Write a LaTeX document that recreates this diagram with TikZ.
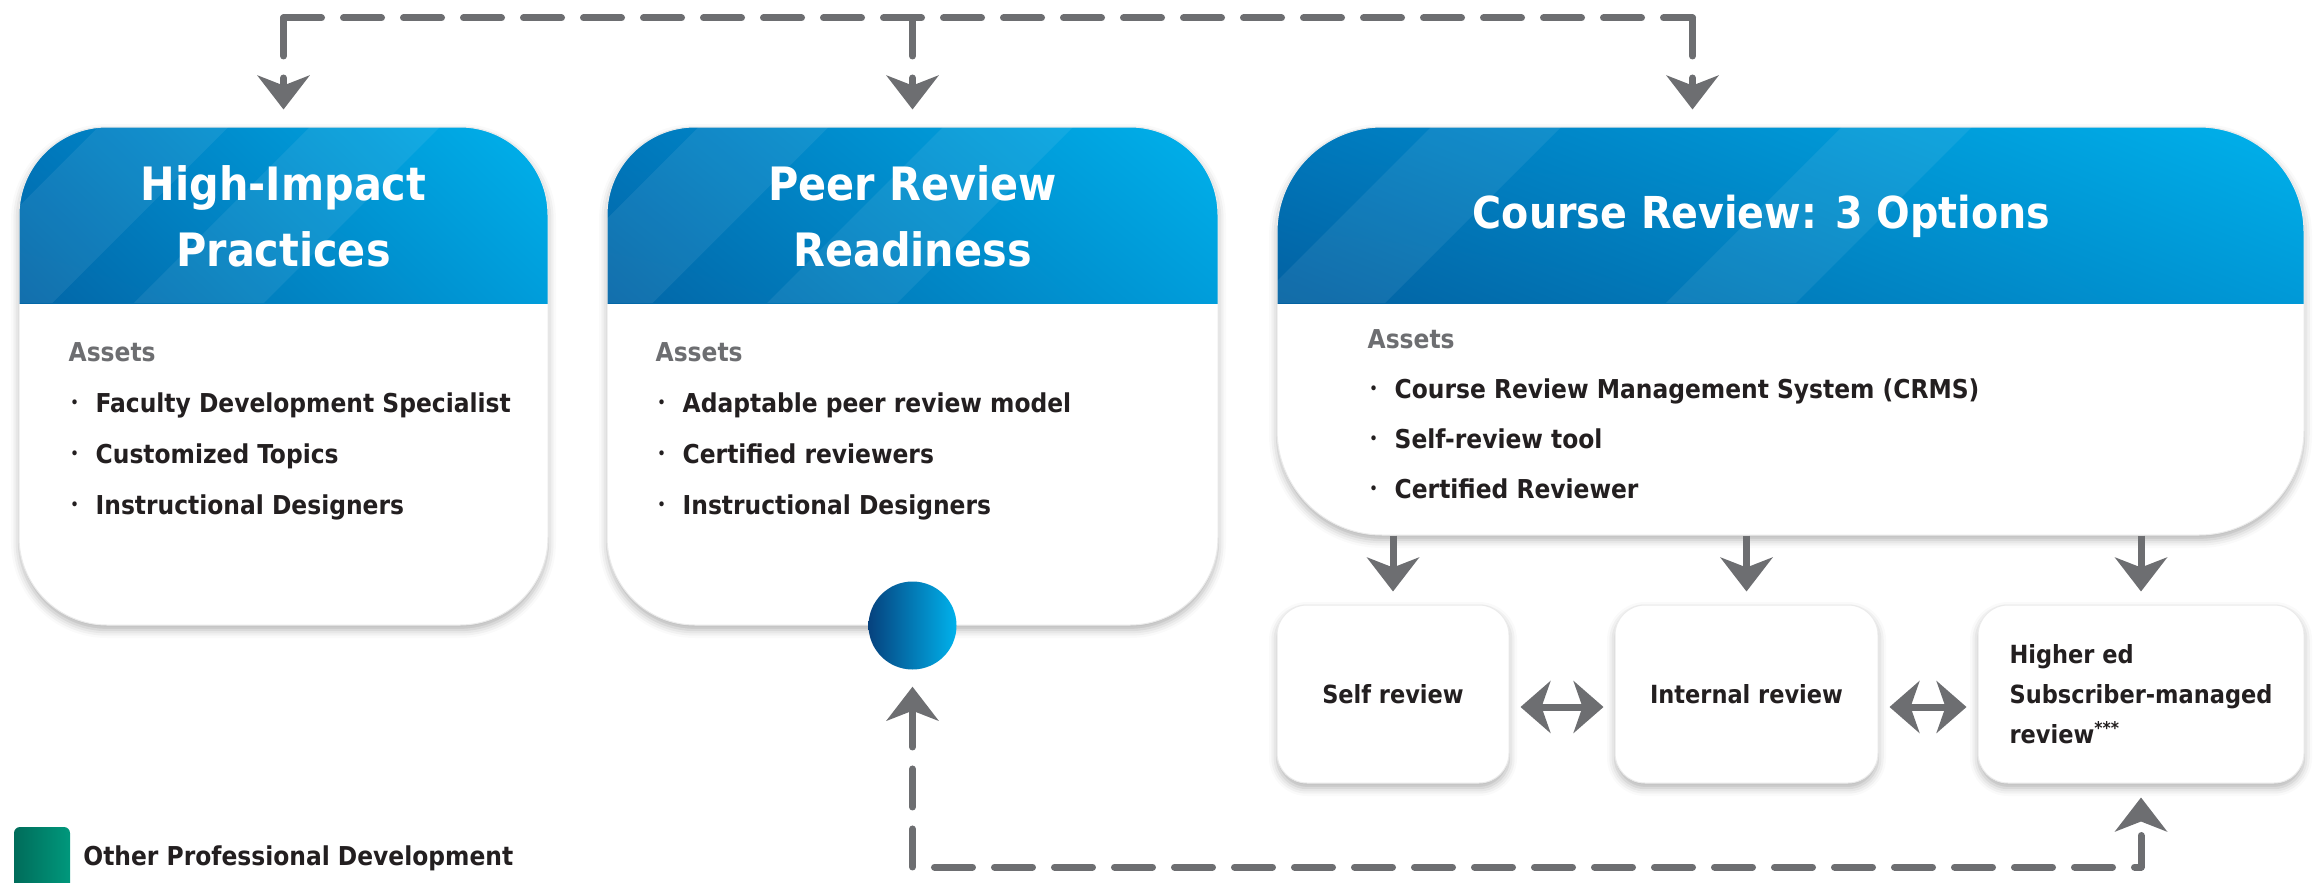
\documentclass[tikz,border=0pt]{standalone}
\usepackage{fontspec}
\setmainfont{DejaVu Sans Condensed}
\usetikzlibrary{arrows.meta,calc,positioning,shadings,shadows.blur}

\definecolor{hdark}{RGB}{6,66,126}
\definecolor{hmid}{RGB}{0,120,188}
\definecolor{hlight}{RGB}{0,178,236}
\definecolor{arrgray}{RGB}{109,110,113}
\definecolor{txtdark}{RGB}{35,31,32}
\definecolor{gdark}{RGB}{0,108,90}
\definecolor{glight}{RGB}{0,152,124}

\newcommand\blt{\hspace*{2pt}\makebox[25pt][l]{\raisebox{5pt}{\fontsize{14}{14}\selectfont\textbullet}}}

\tikzset{
  boxshadow/.style={blur shadow={shadow xshift=0pt, shadow yshift=-5pt, shadow blur radius=8pt, shadow opacity=30}},
  bigbox/.style={draw=black!8, line width=1pt, fill=white, rounded corners=#1, boxshadow,
    path picture={
      \shade[sharp corners, lower left=hdark, upper left=hmid, lower right=hmid, upper right=hlight]
        (path picture bounding box.north west) rectangle ([yshift=-176pt]path picture bounding box.north east);
      \foreach \f in {.15,.55}
        \fill[sharp corners, white, opacity=.07] ($(path picture bounding box.north west)!\f!(path picture bounding box.north east)$)
          -- ++(130pt,0pt) -- ++(-176pt,-176pt) -- ++(-130pt,0pt) -- cycle;
    }},
  bigbox/.default=88pt,
  hdr/.style={text=white, align=center, font=\bfseries\fontsize{46}{66}\selectfont},
  assets/.style={anchor=north west, inner sep=0pt, align=left, text=txtdark, font=\bfseries\fontsize{26}{51}\selectfont},
  smallbox/.style={draw=black!8, line width=1pt, fill=white, rounded corners=30pt, minimum height=178pt, boxshadow,
    text=txtdark, font=\bfseries\fontsize{25}{40}\selectfont},
  tip/.style={-{Stealth[length=34pt, width=52pt, inset=10pt]}},
  dashline/.style={draw=arrgray, line width=7pt, line cap=round, dash pattern=on 38pt off 22pt},
  solidarrow/.style={draw=arrgray, line width=7pt, tip, shorten >=13pt},
  dblarrow/.style={draw=arrgray, line width=7pt, {Stealth[length=30pt, width=52pt, inset=9pt]}-{Stealth[length=30pt, width=52pt, inset=9pt]},
    shorten <=11pt, shorten >=11pt}
}

\begin{document}
\begin{tikzpicture}[x=1pt, y=-1pt, line join=round]
  \useasboundingbox (0,0) rectangle (2321,883);

  % three program boxes
  \node[bigbox, minimum width=529pt, minimum height=498pt] (hip) at (283.5,376) {};
  \node[bigbox, minimum width=611pt, minimum height=498pt] (prr) at (912.5,376) {};
  \node[bigbox=105pt, minimum width=1027pt, minimum height=408pt] (crv) at (1790.5,331) {};

  \node[hdr] (hip-title) at ([yshift=-90pt]hip.north) {High-Impact\\Practices};
  \node[hdr] (prr-title) at ([yshift=-90pt]prr.north) {Peer Review\\Readiness};
  \node[hdr, font=\bfseries\fontsize{44}{66}\selectfont] (crv-title) at ([xshift=-29pt, yshift=-90pt]crv.north) {Course Review: 3 Options};

  \node[assets] (hip-list) at ([xshift=50pt, yshift=-216pt]hip.north west)
    {{\color{arrgray}Assets}\\ \blt Faculty Development Specialist\\ \blt Customized Topics\\ \blt Instructional Designers};
  \node[assets] (prr-list) at ([xshift=49pt, yshift=-216pt]prr.north west)
    {{\color{arrgray}Assets}\\ \blt Adaptable peer review model\\ \blt Certified reviewers\\ \blt Instructional Designers};
  \node[assets, font=\bfseries\fontsize{26}{50}\selectfont] (crv-list) at ([xshift=91pt, yshift=-203pt]crv.north west)
    {{\color{arrgray}Assets}\\ \blt Course Review Management System (CRMS)\\ \blt Self-review tool\\ \blt Certified Reviewer};

  \node[circle, minimum size=88pt, inner sep=0pt, left color=hdark, right color=hlight] (dot) at (prr.south) {};

  % review options
  \node[smallbox, minimum width=232pt] (self) at (1393,694) {Self review};
  \node[smallbox, minimum width=263pt] (internal) at (1746.5,694) {Internal review};
  \node[smallbox, minimum width=326pt, align=left] (higher) at (2141,694)
    {Higher ed\\Subscriber-managed\\review\textsuperscript{***}};

  % legend
  \node[minimum width=56pt, minimum height=62pt, inner sep=0pt, rounded corners=6pt,
    left color=gdark, right color=glight] (leg) at (42,858) {};
  \node[right=13pt of leg, inner sep=0pt, text=txtdark, font=\bfseries\fontsize{26}{30}\selectfont] (leg-text)
    {Other Professional Development};

  % connectors
  \coordinate (top) at (1000,18);
  \coordinate (bot) at (1500,867);
  \coordinate (crv-in) at ([xshift=-98pt]crv.north);
  \draw[dashline] (hip.north |- top) -- (crv-in |- top);
  \foreach \b in {hip.north, prr.north, crv-in}
    \draw[dashline, tip, shorten >=17pt] (\b |- top) -- (\b);
  \foreach \b in {self, internal, higher}
    \draw[solidarrow] (\b.north |- crv.south) -- (\b.north);
  \draw[dblarrow] ([yshift=-13pt]self.east) -- ([yshift=-13pt]internal.west);
  \draw[dblarrow] ([yshift=-13pt]internal.east) -- ([yshift=-13pt]higher.west);
  \draw[dashline, {Stealth[length=34pt, width=52pt, inset=10pt]}-{Stealth[length=34pt, width=52pt, inset=10pt]},
    shorten <=17pt, shorten >=14pt] (dot.south) |- (bot) -| (higher.south);
\end{tikzpicture}
\end{document}
